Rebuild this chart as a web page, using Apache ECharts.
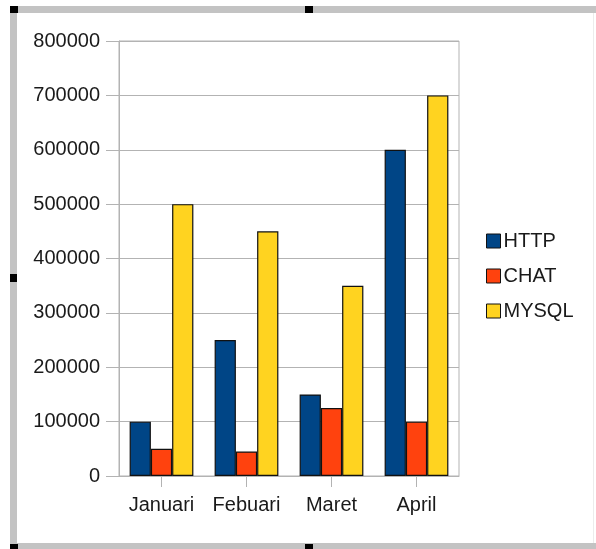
<!DOCTYPE html>
<html>
<head>
<meta charset="utf-8">
<script src="https://cdn.jsdelivr.net/npm/echarts@6/dist/echarts.min.js"></script>
<style>
  html, body { margin: 0; padding: 0; background: #fff; }
  #chart { width: 596px; height: 549px; }
</style>
</head>
<body>
<div id="chart"></div>
<script>
const months = ['Januari', 'Febuari', 'Maret', 'April']
const httpData = [100000, 250000, 150000, 600000]
const chatData = [50000, 45000, 125000, 100000]
const mysqlData = [500000, 450000, 350000, 700000]
const seriesNames = ['HTTP', 'CHAT', 'MYSQL']
const seriesColors = ['#004586', '#ff420e', '#ffd320']

const gridLine = '#b3b3b3'
const frame = '#c3c3c3'
const font = '"Liberation Sans", Arial, sans-serif'

const chart = echarts.init(document.getElementById('chart'))

function barSeries(i, data) {
  return {
    name: seriesNames[i],
    type: 'bar',
    barGap: '0%',
    barCategoryGap: '25%',
    itemStyle: {
      color: seriesColors[i],
      borderColor: '#111',
      borderWidth: 1.2,
    },
    data: data,
  }
}

chart.setOption({
  backgroundColor: '#fff',
  animation: false,
  textStyle: { fontFamily: font },
  grid: {
    left: 119,
    right: 137,
    top: 41,
    bottom: 73,
    show: true,
    borderColor: gridLine,
    borderWidth: 1,
    outerBoundsMode: 'none',
  },
  legend: {
    orient: 'vertical',
    left: 481,
    top: 226,
    itemWidth: 14,
    itemHeight: 14,
    itemGap: 15,
    icon: 'rect',
    textStyle: { color: '#1a1a1a', fontSize: 20, fontFamily: font, padding: [0, 0, 0, -2] },
    itemStyle: { borderColor: '#111', borderWidth: 1 },
    data: seriesNames,
  },
  xAxis: {
    type: 'category',
    data: months,
    axisLine: { show: true, lineStyle: { color: gridLine } },
    axisTick: { show: true, alignWithLabel: true, length: 11, lineStyle: { color: gridLine } },
    axisLabel: { color: '#1a1a1a', fontSize: 20, margin: 19, interval: 0 },
  },
  yAxis: {
    type: 'value',
    min: 0,
    max: 800000,
    interval: 100000,
    axisLine: { show: true, lineStyle: { color: gridLine } },
    axisTick: { show: true, length: 13, lineStyle: { color: gridLine } },
    splitLine: { show: true, lineStyle: { color: gridLine, width: 1 } },
    axisLabel: { color: '#1a1a1a', fontSize: 20, margin: 19, formatter: (v) => String(v) },
  },
  series: [
    barSeries(0, httpData),
    barSeries(1, chatData),
    barSeries(2, mysqlData),
  ],
  // window frame and selection handles around the chart
  graphic: [
    { type: 'rect', shape: { x: 10, y: 6, width: 586, height: 7 }, style: { fill: frame }, silent: true },
    { type: 'rect', shape: { x: 10, y: 6, width: 7, height: 543 }, style: { fill: frame }, silent: true },
    { type: 'rect', shape: { x: 10, y: 543, width: 586, height: 6 }, style: { fill: frame }, silent: true },
    { type: 'rect', shape: { x: 593, y: 13, width: 1, height: 530 }, style: { fill: '#ececec' }, silent: true },
    { type: 'rect', shape: { x: 10, y: 6, width: 8, height: 7 }, style: { fill: '#000' }, silent: true },
    { type: 'rect', shape: { x: 305, y: 6, width: 8, height: 7 }, style: { fill: '#000' }, silent: true },
    { type: 'rect', shape: { x: 10, y: 274, width: 7, height: 8 }, style: { fill: '#000' }, silent: true },
    { type: 'rect', shape: { x: 10, y: 544, width: 8, height: 5 }, style: { fill: '#000' }, silent: true },
    { type: 'rect', shape: { x: 305, y: 544, width: 8, height: 5 }, style: { fill: '#000' }, silent: true },
  ],
})
</script>
</body>
</html>
